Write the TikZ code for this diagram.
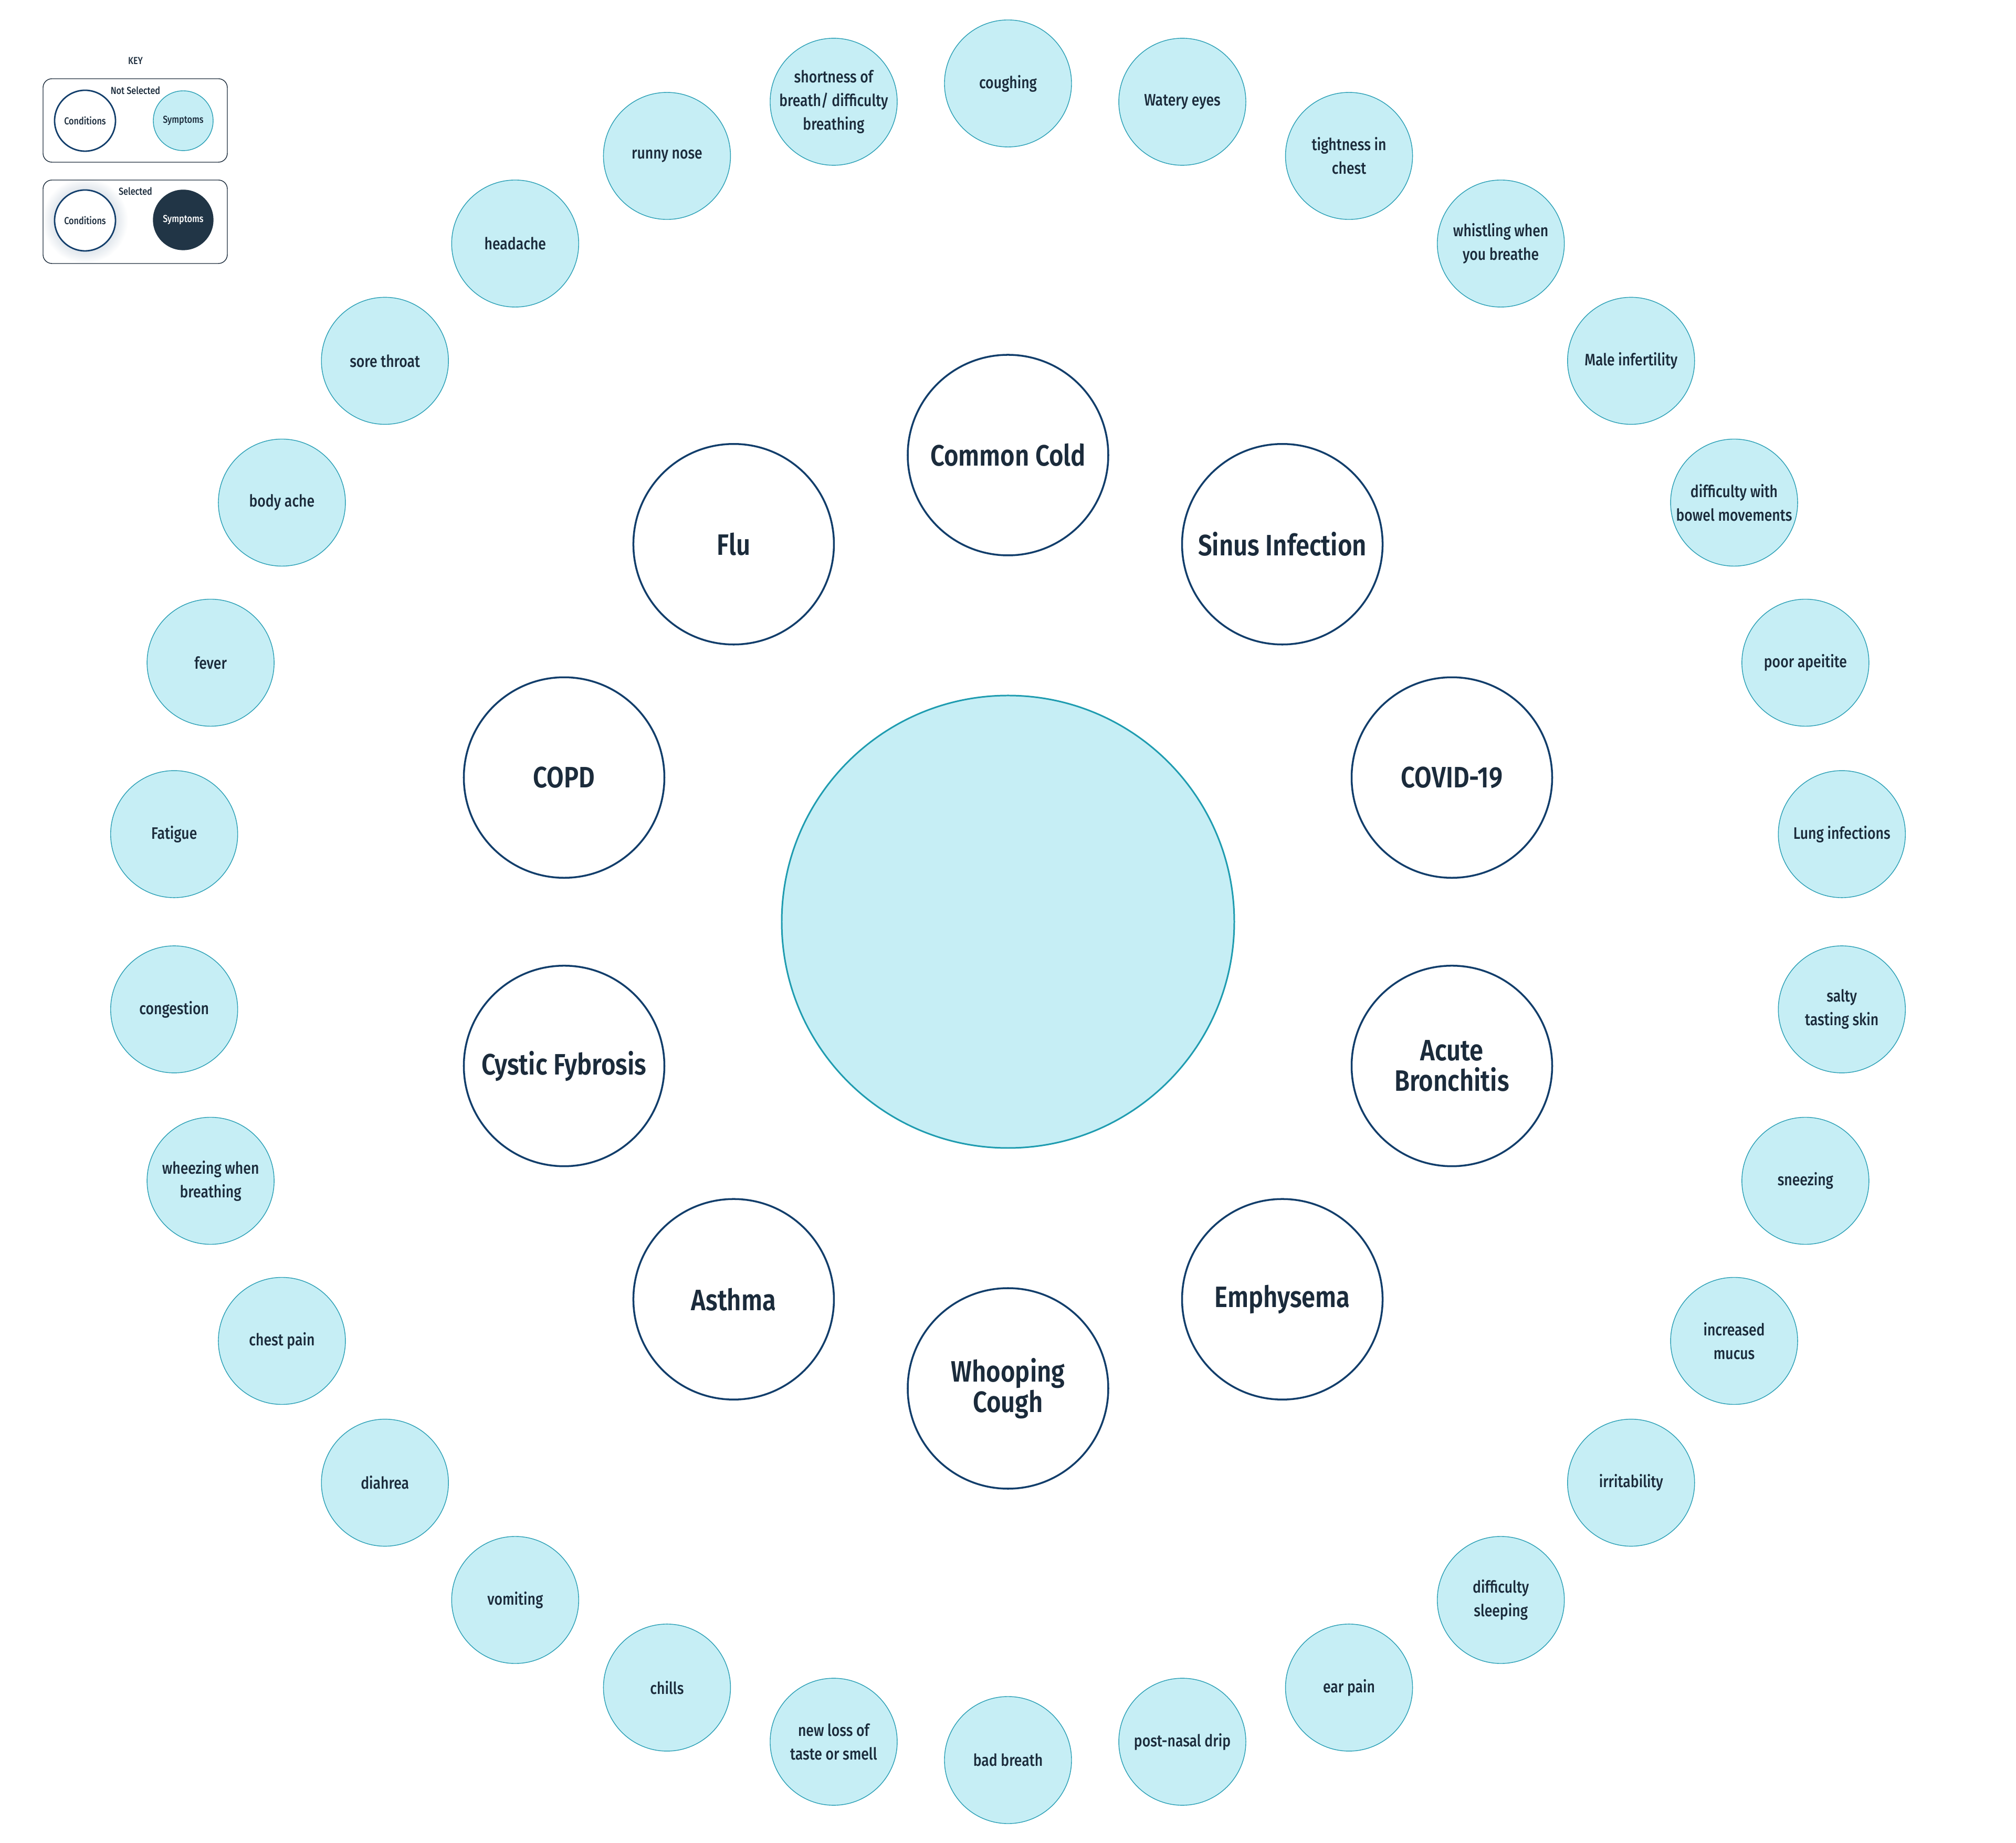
\documentclass[tikz,border=0pt]{standalone}
\usepackage{fontspec}
\setmainfont{Fira Sans}[FakeStretch=0.84, UprightFont=* Medium, BoldFont=* SemiBold]
\usepackage{tikz}
\usetikzlibrary{positioning}
\definecolor{navy}{HTML}{123E6B}
\definecolor{ink}{HTML}{1B2B3B}
\definecolor{aqua}{HTML}{C6EEF5}
\definecolor{aqualine}{HTML}{2A9FB5}
\definecolor{hubline}{HTML}{1F9CB0}
\definecolor{slate}{HTML}{213546}
\tikzstyle{condition} = [circle, draw=navy, line width=1pt, fill=white, minimum size=3.82cm, inner sep=0pt, text=ink, font=\fontsize{16}{16.5}\selectfont\bfseries]
\tikzstyle{symptom} = [circle, draw=aqualine, line width=0.4pt, fill=aqua, minimum size=2.42cm, inner sep=0pt, text=ink, font=\fontsize{9}{12.8}\selectfont]
\tikzstyle{keybox} = [draw=ink, line width=0.4pt, rounded corners=0.17cm]
\tikzstyle{keytext} = [text=ink, font=\fontsize{5.5}{6.5}\selectfont]
\tikzset{every node/.style={align=center}}

\begin{document}
\begin{tikzpicture}
    \useasboundingbox (-19.2,-17.55) rectangle (19.2,17.56);

    % key
    \shade [inner color=navy!45, outer color=white] (-17.58,13.36) circle (0.82);
    \draw [keybox] (-18.38,14.47) rectangle (-14.87,16.06);
    \draw [keybox] (-18.38,12.54) rectangle (-14.87,14.13);
    \node (key)      [keytext] at (-16.62,16.40) {KEY};
    \node (notsel)   [keytext] at (-16.62,15.84) {Not Selected};
    \node (sel)      [keytext] at (-16.62,13.92) {Selected};
    \node (keycond)  [condition, minimum size=1.16cm, line width=0.8pt, keytext] at (-17.58,15.26) {Conditions};
    \node (keysym)   [symptom, minimum size=1.14cm, keytext] at (-15.71,15.26) {Symptoms};
    \node (keycond2) [condition, minimum size=1.16cm, line width=0.8pt, keytext] at (-17.58,13.36) {Conditions};
    \node (keysym2)  [symptom, minimum size=1.14cm, draw=slate, fill=slate, keytext, text=white] at (-15.71,13.37) {Symptoms};

    % hub
    \node (hub) [circle, draw=hubline, line width=0.85pt, fill=aqua, minimum size=8.62cm] at (0,0) {};

    % conditions
    \node (cold)       [condition] at (90:8.89)   {Common Cold};
    \node (sinus)      [condition] at (54:8.89)   {Sinus Infection};
    \node (covid)      [condition] at (18:8.89)   {COVID-19};
    \node (bronchitis) [condition] at (-18:8.89)  {Acute\\Bronchitis};
    \node (emphysema)  [condition] at (-54:8.89)  {Emphysema};
    \node (whooping)   [condition] at (-90:8.89)  {Whooping\\Cough};
    \node (asthma)     [condition] at (-126:8.89) {Asthma};
    \node (cystic)     [condition] at (-162:8.89) {Cystic Fybrosis};
    \node (copd)       [condition] at (162:8.89)  {COPD};
    \node (flu)        [condition] at (126:8.89)  {Flu};

    % symptoms
    \node (coughing)   [symptom] at (90:15.97)   {coughing};
    \node (watery)     [symptom] at (78:15.97)   {Watery eyes};
    \node (tightness)  [symptom] at (66:15.97)   {tightness in\\chest};
    \node (whistling)  [symptom] at (54:15.97)   {whistling when\\you breathe};
    \node (infertility)[symptom] at (42:15.97)   {Male infertility};
    \node (bowel)      [symptom] at (30:15.97)   {difficulty with\\bowel movements};
    \node (appetite)   [symptom] at (18:15.97)   {poor apeitite};
    \node (lung)       [symptom] at (6:15.97)    {Lung infections};
    \node (salty)      [symptom] at (-6:15.97)   {salty\\tasting skin};
    \node (sneezing)   [symptom] at (-18:15.97)  {sneezing};
    \node (mucus)      [symptom] at (-30:15.97)  {increased\\mucus};
    \node (irritable)  [symptom] at (-42:15.97)  {irritability};
    \node (sleeping)   [symptom] at (-54:15.97)  {difficulty\\sleeping};
    \node (earpain)    [symptom] at (-66:15.97)  {ear pain};
    \node (postnasal)  [symptom] at (-78:15.97)  {post-nasal drip};
    \node (badbreath)  [symptom] at (-90:15.97)  {bad breath};
    \node (taste)      [symptom] at (-102:15.97) {new loss of\\taste or smell};
    \node (chills)     [symptom] at (-114:15.97) {chills};
    \node (vomiting)   [symptom] at (-126:15.97) {vomiting};
    \node (diahrea)    [symptom] at (-138:15.97) {diahrea};
    \node (chestpain)  [symptom] at (-150:15.97) {chest pain};
    \node (wheezing)   [symptom] at (-162:15.97) {wheezing when\\breathing};
    \node (congestion) [symptom] at (-174:15.97) {congestion};
    \node (fatigue)    [symptom] at (174:15.97)  {Fatigue};
    \node (fever)      [symptom] at (162:15.97)  {fever};
    \node (bodyache)   [symptom] at (150:15.97)  {body ache};
    \node (throat)     [symptom] at (138:15.97)  {sore throat};
    \node (headache)   [symptom] at (126:15.97)  {headache};
    \node (runny)      [symptom] at (114:15.97)  {runny nose};
    \node (shortness)  [symptom] at (102:15.97)  {shortness of\\breath/ difficulty\\breathing};
\end{tikzpicture}
\end{document}
